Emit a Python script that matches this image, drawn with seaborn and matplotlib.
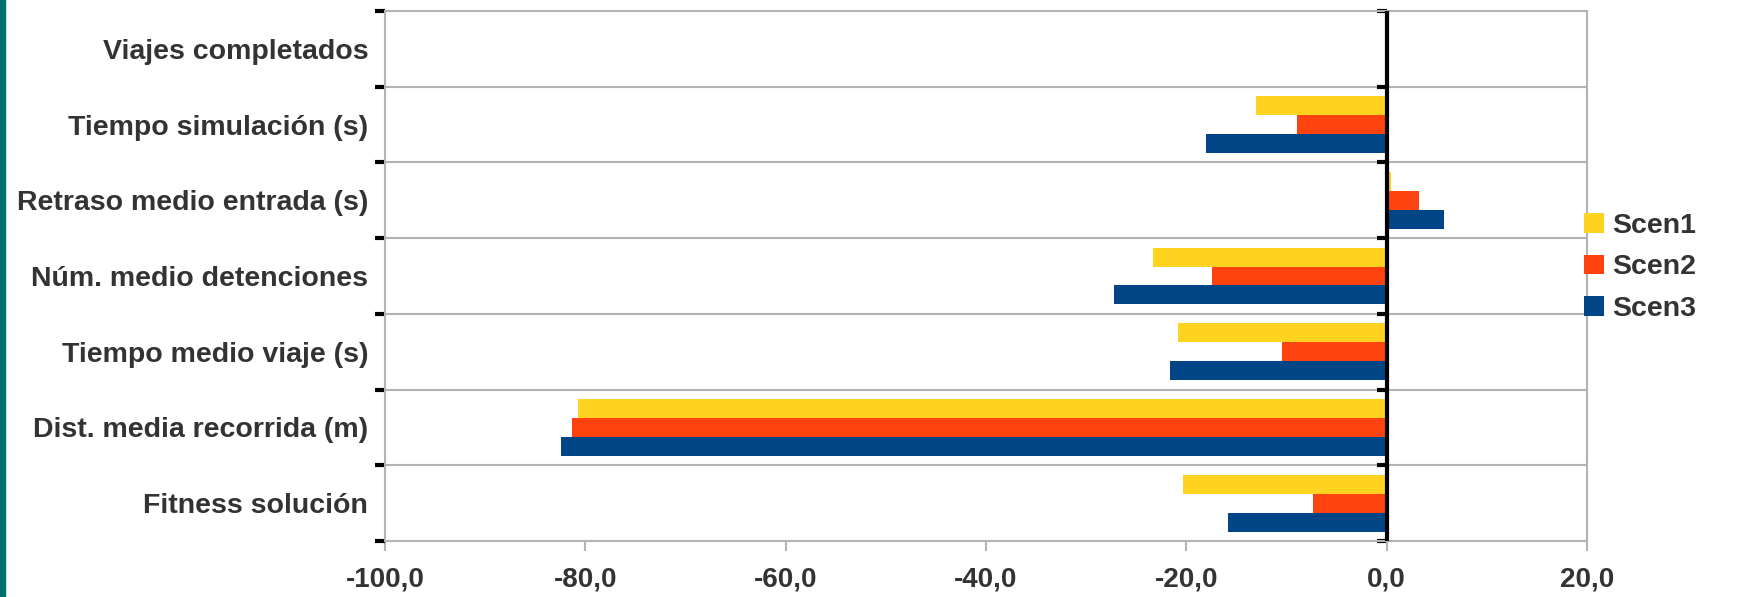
import matplotlib
matplotlib.use("Agg")
import matplotlib.pyplot as plt
import matplotlib.ticker as mticker
from matplotlib.patches import Rectangle
import pandas as pd
import seaborn as sns

# datos (variacion en %)
categorias = ["Viajes completados", "Tiempo simulación (s)", "Retraso medio entrada (s)",
              "Núm. medio detenciones", "Tiempo medio viaje (s)", "Dist. media recorrida (m)",
              "Fitness solución"]
escenarios = ["Scen1", "Scen2", "Scen3"]
scen1 = [0.0, -13.0, 0.4, -23.3, -20.8, -80.7, -20.3]
scen2 = [0.0, -9.0, 3.2, -17.4, -10.5, -81.3, -7.4]
scen3 = [0.0, -18.0, 5.7, -27.2, -21.6, -82.4, -15.8]
colores = ["#FFD320", "#FF420E", "#004586"]
xticks = [-100, -80, -60, -40, -20, 0, 20]

df = pd.DataFrame({
    "categoria": categorias * 3,
    "valor": scen1 + scen2 + scen3,
    "escenario": [e for e in escenarios for _ in categorias],
})

sns.set_style("white")
plt.rcParams["font.family"] = ["Liberation Sans", "DejaVu Sans"]
plt.rcParams["font.weight"] = "bold"

fig = plt.figure(figsize=(17.39, 5.97), dpi=100)
ax = fig.add_axes([0.2214, 0.0938, 0.6912, 0.8878])

sns.barplot(data=df, y="categoria", x="valor", hue="escenario", orient="h",
            palette=colores, saturation=1, width=0.75, linewidth=0, ax=ax)

gris = "#b3b3b3"
texto = "#333333"
n = len(categorias)
limites = [i - 0.5 for i in range(n + 1)]

ax.set_xlim(xticks[0], xticks[-1])
ax.set_ylim(n - 0.5, -0.5)
ax.set_xlabel("")
ax.set_ylabel("")

# lineas horizontales entre categorias
for y in limites:
    ax.axhline(y, color=gris, lw=1.5, zorder=0)

for s in ax.spines.values():
    s.set_color(gris)
    s.set_linewidth(1.5)

# eje y: marcas en los limites, etiquetas en los centros
ax.set_yticks(limites)
ax.set_yticklabels([])
ax.set_yticks(range(n), minor=True)
ax.set_yticklabels(categorias, minor=True, fontsize=20.5, fontweight="bold", color=texto)
ax.tick_params(axis="y", which="major", left=True, length=7.5, width=3, color="black", direction="out")
ax.tick_params(axis="y", which="minor", left=False, length=0, pad=12)

# eje x con coma decimal
ax.set_xticks(xticks)
ax.xaxis.set_major_formatter(mticker.FuncFormatter(lambda v, p: f"{v:.1f}".replace(".", ",")))
ax.tick_params(axis="x", bottom=True, length=7, width=1.5, color=gris, direction="out",
               labelsize=20, labelcolor=texto, pad=11)
for lab in ax.get_xticklabels():
    lab.set_fontweight("bold")

# linea del cero con sus marcas hacia la izquierda
ax.axvline(0, color="black", lw=3, zorder=4)
eje0 = ax.secondary_yaxis(location=(0 - xticks[0]) / (xticks[-1] - xticks[0]))
eje0.set_yticks(limites)
eje0.set_yticklabels([])
eje0.spines["left"].set_visible(False)
eje0.tick_params(axis="y", length=7.5, width=3, color="black", direction="in")

leg = ax.legend(loc="center left", bbox_to_anchor=(0.911, 0.552), bbox_transform=fig.transFigure,
                frameon=False, fontsize=20.5, handlelength=0.68, handleheight=0.7,
                handletextpad=0.3, labelspacing=0.55, borderaxespad=0, borderpad=0)
for t in leg.get_texts():
    t.set_color(texto)
    t.set_fontweight("bold")

# franja verde azulado a la izquierda
fig.patches.append(Rectangle((0, 0), 5 / 1739, 1, transform=fig.transFigure,
                             color="#00706e", zorder=5))

fig.savefig("out.png", dpi=100)
